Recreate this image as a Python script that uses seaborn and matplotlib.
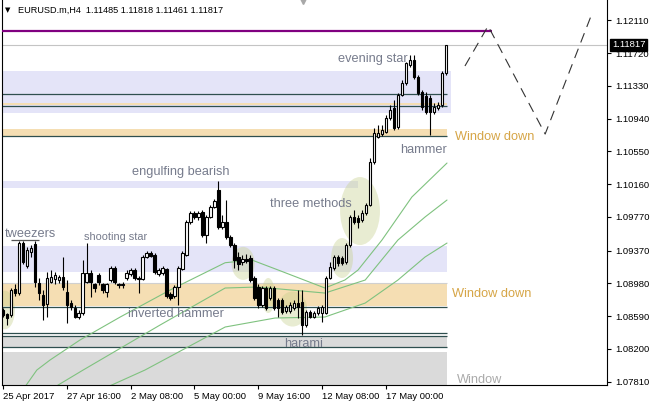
import numpy as np
import pandas as pd
import matplotlib
matplotlib.use("Agg")
import matplotlib.pyplot as plt
import matplotlib.transforms as mtransforms
from matplotlib.patches import Ellipse
import seaborn as sns

# ---------------- data (EURUSD.m, H4) ----------------
opens = [1.08663, 1.08615, 1.08604, 1.08913, 1.08865, 1.09460, 1.09187, 1.09353, 1.09448, 1.08984,
         1.08842, 1.08734, 1.08996, 1.09032, 1.09020, 1.09056, 1.08877, 1.08746, 1.08687, 1.08580,
         1.08627, 1.08996, 1.09103, 1.08972, 1.09080, 1.08972, 1.08877, 1.09020, 1.09163, 1.08972,
         1.08961, 1.09044, 1.09091, 1.09139, 1.09044, 1.09032, 1.09294, 1.09341, 1.09318, 1.09091,
         1.09103, 1.09151, 1.08853, 1.08830, 1.08937, 1.09151, 1.09318, 1.09710, 1.09817, 1.09770,
         1.09829, 1.09556, 1.09770, 1.09889, 1.10091, 1.09651, 1.09710, 1.09532, 1.09437, 1.09294,
         1.09234, 1.09270, 1.09282, 1.09044, 1.08937, 1.08723, 1.08925, 1.08806, 1.08925, 1.08782,
         1.08782, 1.08651, 1.08651, 1.08687, 1.08746, 1.08758, 1.08485, 1.08639, 1.08580, 1.08627,
         1.08627, 1.08627, 1.09044, 1.09163, 1.09294, 1.09282, 1.09234, 1.09437, 1.09770, 1.09758,
         1.09734, 1.09817, 1.09913, 1.10424, 1.10722, 1.10757, 1.10781, 1.10948, 1.11067, 1.10841,
         1.11222, 1.11364, 1.11579, 1.11638, 1.11436, 1.11257, 1.11210, 1.11186, 1.11020, 1.11067,
         1.11103, 1.11485]
highs = [1.08687, 1.08627, 1.08925, 1.08972, 1.09484, 1.09484, 1.09413, 1.09437, 1.09484, 1.09044,
         1.08901, 1.09115, 1.09139, 1.09115, 1.09080, 1.09294, 1.09020, 1.08782, 1.08723, 1.08663,
         1.09258, 1.09460, 1.09139, 1.08984, 1.09103, 1.08984, 1.08984, 1.09187, 1.09187, 1.08984,
         1.08996, 1.09139, 1.09163, 1.09163, 1.09068, 1.09318, 1.09365, 1.09365, 1.09341, 1.09163,
         1.09187, 1.09163, 1.08877, 1.08961, 1.09187, 1.09365, 1.09734, 1.09841, 1.09841, 1.09841,
         1.09853, 1.09794, 1.09913, 1.09984, 1.10198, 1.09794, 1.09972, 1.09556, 1.09460, 1.09353,
         1.09318, 1.09329, 1.09318, 1.09068, 1.08972, 1.08949, 1.08949, 1.08949, 1.08949, 1.08806,
         1.08806, 1.08723, 1.08758, 1.08782, 1.08901, 1.08901, 1.08663, 1.08663, 1.08651, 1.08711,
         1.08723, 1.09068, 1.09234, 1.09318, 1.09318, 1.09306, 1.09460, 1.09794, 1.09853, 1.09794,
         1.09853, 1.09936, 1.10472, 1.10829, 1.10865, 1.10865, 1.10984, 1.11103, 1.11162, 1.11245,
         1.11400, 1.11614, 1.11698, 1.11698, 1.11460, 1.11281, 1.11257, 1.11222, 1.11126, 1.11138,
         1.11507, 1.11818]
lows = [1.08580, 1.08485, 1.08580, 1.08830, 1.08842, 1.09210, 1.09163, 1.09294, 1.08937, 1.08782,
        1.08544, 1.08580, 1.08984, 1.08972, 1.08984, 1.08901, 1.08508, 1.08663, 1.08568, 1.08556,
        1.08604, 1.08984, 1.08818, 1.08877, 1.08961, 1.08865, 1.08818, 1.08996, 1.08972, 1.08925,
        1.08925, 1.09020, 1.09068, 1.09020, 1.08865, 1.09020, 1.09282, 1.09294, 1.09091, 1.09068,
        1.09080, 1.08806, 1.08782, 1.08806, 1.08723, 1.09139, 1.09306, 1.09686, 1.09746, 1.09734,
        1.09532, 1.09460, 1.09758, 1.09877, 1.09627, 1.09627, 1.09508, 1.09413, 1.09163, 1.09139,
        1.09199, 1.09222, 1.08996, 1.08782, 1.08687, 1.08699, 1.08663, 1.08782, 1.08663, 1.08580,
        1.08615, 1.08627, 1.08627, 1.08663, 1.08568, 1.08366, 1.08461, 1.08568, 1.08568, 1.08604,
        1.08520, 1.08615, 1.09032, 1.09139, 1.09187, 1.09199, 1.09210, 1.09413, 1.09686, 1.09639,
        1.09710, 1.09794, 1.09901, 1.10400, 1.10710, 1.10734, 1.10769, 1.10924, 1.10805, 1.10817,
        1.11210, 1.11341, 1.11555, 1.11412, 1.11222, 1.11043, 1.10996, 1.10745, 1.10996, 1.11043,
        1.11079, 1.11461]
closes = [1.08604, 1.08568, 1.08901, 1.08865, 1.09460, 1.09234, 1.09377, 1.09401, 1.08996, 1.08865,
          1.08723, 1.09044, 1.09056, 1.09080, 1.09056, 1.08937, 1.08723, 1.08699, 1.08580, 1.08627,
          1.09103, 1.09103, 1.08996, 1.08925, 1.08996, 1.08901, 1.08972, 1.09163, 1.08996, 1.08961,
          1.08972, 1.09103, 1.09139, 1.09044, 1.09032, 1.09294, 1.09341, 1.09306, 1.09115, 1.09139,
          1.09163, 1.08830, 1.08806, 1.08937, 1.09163, 1.09341, 1.09710, 1.09817, 1.09770, 1.09817,
          1.09556, 1.09770, 1.09889, 1.09960, 1.09651, 1.09710, 1.09532, 1.09437, 1.09258, 1.09210,
          1.09270, 1.09246, 1.09020, 1.08806, 1.08723, 1.08925, 1.08687, 1.08925, 1.08687, 1.08687,
          1.08639, 1.08699, 1.08723, 1.08746, 1.08699, 1.08485, 1.08639, 1.08580, 1.08627, 1.08687,
          1.08699, 1.09044, 1.09175, 1.09294, 1.09222, 1.09222, 1.09437, 1.09770, 1.09710, 1.09710,
          1.09817, 1.09913, 1.10424, 1.10769, 1.10769, 1.10805, 1.10948, 1.11043, 1.10829, 1.11222,
          1.11364, 1.11602, 1.11638, 1.11436, 1.11245, 1.11079, 1.11020, 1.11020, 1.11079, 1.11103,
          1.11483, 1.11817]

# moving averages (bar index, price)
ma_fast_bar = [5.5, 8.5, 11.8, 19.3, 29.4, 41.9, 55.7, 62.4, 69.0, 80.7, 85.7, 89.0, 95.0, 102.5, 111.3]
ma_fast_val = [1.07747, 1.07949, 1.08068, 1.08306, 1.08580, 1.08901, 1.09226, 1.09258, 1.09139,
               1.08925, 1.09020, 1.09139, 1.09496, 1.10008, 1.10412]
ma_mid_bar = [13.0, 20.1, 39.4, 55.7, 63.9, 80.7, 90.8, 99.0, 105.8, 111.3]
ma_mid_val = [1.07747, 1.07949, 1.08485, 1.08925, 1.08937, 1.08865, 1.09020, 1.09496, 1.09770, 1.09972]
ma_slow_bar = [25.6, 35.6, 55.7, 68.2, 80.7, 90.8, 99.0, 105.8, 111.3]
ma_slow_val = [1.07735, 1.07949, 1.08461, 1.08568, 1.08580, 1.08746, 1.09020, 1.09294, 1.09460]

# projected path (dashed)
proj_bar = [115.8, 121.6, 135.9, 147.4]
proj_val = [1.11567, 1.12043, 1.10757, 1.12162]

# tick labels
xtick_bars = [0, 16, 32, 48, 64, 80, 96]
xtick_labels = ["25 Apr 2017", "27 Apr 16:00", "2 May 08:00", "5 May 00:00",
                "9 May 16:00", "12 May 08:00", "17 May 00:00"]
ytick_vals = [1.07810, 1.08200, 1.08590, 1.08980, 1.09370, 1.09770,
              1.10160, 1.10550, 1.10940, 1.11330, 1.11720, 1.12110]

last_price = 1.11817
resistance_line = 1.11985

# zones: (low, high, right edge bar, colour)
zones = [
    (1.11004, 1.11511, 112.2, "#e4e4f8"),
    (1.11102, 1.11130, 111.3, "#f5deb3"),
    (1.10734, 1.10817, 111.3, "#f5deb3"),
    (1.10115, 1.10198, 89.0, "#e4e4f8"),
    (1.09119, 1.09425, 111.2, "#e4e4f8"),
    (1.08711, 1.08988, 111.3, "#f5deb3"),
    (1.08226, 1.08357, 111.3, "#dadada"),
    (1.07600, 1.08160, 111.3, "#dadada"),
]
zone_lines = [1.11233, 1.11094, 1.10734, 1.08705, 1.08386, 1.08357, 1.08226]

# highlight ellipses: (centre bar, centre price, width bars, height price)
ellipses = [
    (0.5, 1.08663, 5.0, 0.00460),
    (60.2, 1.09218, 5.8, 0.00393),
    (66.5, 1.08836, 3.4, 0.00417),
    (72.6, 1.08675, 7.3, 0.00417),
    (85.0, 1.09282, 5.5, 0.00476),
    (89.5, 1.09841, 10.0, 0.00809),
]

# annotations: (text, bar, price baseline, colour, size)
notes = [
    ("evening star", 83.9, 1.11611, "#767b8c", 9.2),
    ("hammer", 99.5, 1.10528, "#767b8c", 9.2),
    ("Window down", 113.3, 1.10686, "#d6a546", 9.2),
    ("engulfing bearish", 32.3, 1.10264, "#767b8c", 9.2),
    ("three methods", 67.0, 1.09892, "#767b8c", 9.2),
    ("tweezers", 0.55, 1.09528, "#767b8c", 9.2),
    ("shooting star", 20.3, 1.09496, "#767b8c", 7.9),
    ("Window down", 112.6, 1.08818, "#d6a546", 9.2),
    ("inverted hammer", 31.4, 1.08584, "#767b8c", 9.2),
    ("harami", 70.5, 1.08226, "#767b8c", 9.2),
    ("Window", 113.8, 1.07794, "#aaaaaa", 9.2),
]
tweezer_bars = [2.0, 9.0]
tweezer_level = 1.09496

# ---------------- drawing ----------------
sns.set_theme(style="white")
plt.rcParams["font.family"] = ["Liberation Sans", "DejaVu Sans"]

W, H = 651, 407
fig = plt.figure(figsize=(W / 100, H / 100), dpi=100)
ax = fig.add_axes([2 / W, 22 / H, 605 / W, 385 / H])
ax.set_facecolor("white")
ax.set_xlim(-0.23, 151.4)
ax.set_ylim(1.07771, 1.12352)

# zones
for lo, hi, xr, col in zones:
    ax.fill_between([-1, xr], [lo, lo], [hi, hi], color=col, lw=0, zorder=0)
ax.hlines([1.08988], -1, 111.3, color="#d0d0d0", lw=0.8, zorder=1)
ax.hlines(zone_lines, -1, 111.3, color="#2f4f4f", lw=0.9, zorder=2)

# ellipses
for cx, cy, w, h in ellipses:
    ax.add_patch(Ellipse((cx, cy), w, h, facecolor="#c5cf89", alpha=0.38,
                         edgecolor="none", zorder=1.5))

# moving averages
for xb, yv in [(ma_fast_bar, ma_fast_val), (ma_mid_bar, ma_mid_val), (ma_slow_bar, ma_slow_val)]:
    sns.lineplot(x=xb, y=yv, ax=ax, color="#7fc27f", lw=0.8, sort=False, zorder=2.5)

# resistance + bid line
ax.hlines(resistance_line, -1, 122.5, color="#800080", lw=1.6, zorder=3)
ax.axhline(last_price, color="#c4c4c4", lw=0.8, zorder=1)

# candles
df = pd.DataFrame({"bar": np.arange(len(opens)), "open": opens, "high": highs,
                   "low": lows, "close": closes})
ax.vlines(df["bar"], df["low"], df["high"], color="black", lw=0.8, zorder=4)
up = df["close"] >= df["open"]
lo_b = np.minimum(df["open"], df["close"])
hgt = np.maximum((df["close"] - df["open"]).abs(), 0.00003)
ax.bar(df["bar"][up], hgt[up], bottom=lo_b[up], width=0.62, color="white",
       edgecolor="black", lw=0.8, zorder=5)
ax.bar(df["bar"][~up], hgt[~up], bottom=lo_b[~up], width=0.62, color="black",
       edgecolor="black", lw=0.8, zorder=5)

# projection
sns.lineplot(x=proj_bar, y=proj_val, ax=ax, color="#333333", lw=0.8, sort=False,
             zorder=3, linestyle=(0, (9, 6)))

# annotations
for txt, xb, yv, col, fs in notes:
    ax.text(xb, yv, txt, color=col, fontsize=fs, va="baseline", ha="left", zorder=6)
ax.hlines(tweezer_level, tweezer_bars[0], tweezer_bars[1], color="#555555", lw=0.9, zorder=6)

# axes styling
for side in ["top"]:
    ax.spines[side].set_visible(False)
for side in ["left", "right", "bottom"]:
    ax.spines[side].set_color("black")
    ax.spines[side].set_linewidth(0.8)

ax.yaxis.tick_right()
ax.set_yticks(ytick_vals)
ax.set_yticklabels([f"{v:.5f}" for v in ytick_vals])
ax.tick_params(axis="y", which="both", direction="out", length=3, width=0.8,
               pad=3, labelsize=6.8, colors="black", right=True, left=False)
ax.set_xticks(xtick_bars)
ax.set_xticklabels(xtick_labels)
for lab in ax.get_xticklabels():
    lab.set_ha("left")
ax.tick_params(axis="x", direction="out", length=3, width=0.8, pad=2,
               labelsize=6.8, colors="black", bottom=True)
ax.set_xlabel("")
ax.set_ylabel("")
ax.grid(False)
if ax.get_legend() is not None:
    ax.get_legend().remove()

# current price box
trans = mtransforms.blended_transform_factory(ax.transAxes, ax.transData)
ax.text(1.0 + 5 / 605, last_price, f"{last_price:.5f}", transform=trans, color="white",
        fontsize=6.8, va="center", ha="left", zorder=10, clip_on=False,
        bbox=dict(boxstyle="square,pad=0.2", fc="black", ec="black"))

# chart shift marker
ax.plot([301 / 605], [0.997], marker="v", color="#a8a8a8", ms=5, transform=ax.transAxes,
        clip_on=False, zorder=10)

# title
fig.text(5 / W, 1 - 10 / H, "\u25bc", fontsize=5, va="center", ha="left",
         family=["DejaVu Sans"], color="black")
fig.text(18 / W, 1 - 10 / H, "EURUSD.m,H4  1.11485 1.11818 1.11461 1.11817",
         fontsize=6.6, va="center", ha="left", color="black")

fig.savefig("out.png", dpi=100, facecolor="white")
